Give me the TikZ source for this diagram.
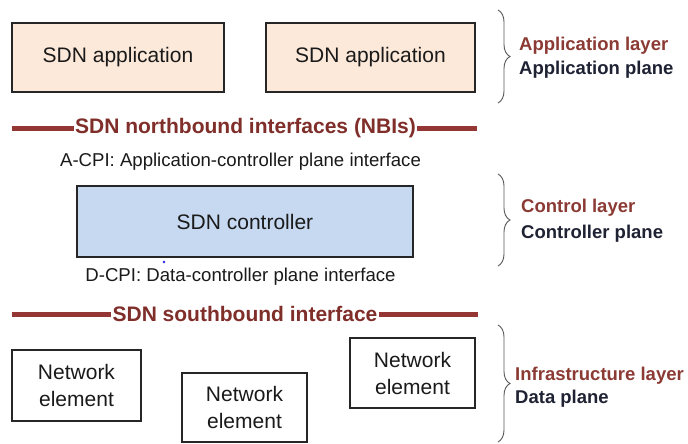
\documentclass[tikz,border=0pt]{standalone}
\usepackage{fontspec}
\setmainfont{Liberation Sans}
\usetikzlibrary{decorations.pathreplacing}
\definecolor{ifred}{HTML}{943634}
\definecolor{iftext}{HTML}{7F2E2A}
\definecolor{appfill}{HTML}{FDE9D9}
\definecolor{ctlfill}{HTML}{C6D9F1}
\definecolor{labtop}{HTML}{8B3A34}
\definecolor{labbot}{HTML}{1E2233}
\definecolor{bodytext}{HTML}{1A1A1A}
\definecolor{dotblue}{HTML}{2020E0}
\tikzset{
  box/.style={draw=black!85, line width=1.4pt, inner sep=0pt, text=bodytext, align=center,
              font=\fontsize{21}{27}\selectfont},
  appbox/.style={box, fill=appfill},
  ctlbox/.style={box, fill=ctlfill},
  nebox/.style={box, fill=white},
  ifline/.style={draw=ifred, line width=5pt},
  iflabel/.style={text=iftext, font=\bfseries\fontsize{21}{25}\selectfont, inner sep=1pt},
  cpilabel/.style={text=bodytext, font=\fontsize{18.6}{22}\selectfont, inner sep=0pt},
  layerbrace/.style={draw=black!65, line width=0.9pt, decorate, decoration={brace, amplitude=12pt}},
  labA/.style={text=labtop, font=\bfseries\fontsize{18.5}{22}\selectfont, anchor=west, inner sep=0pt},
  labB/.style={text=labbot, font=\bfseries\fontsize{18.5}{22}\selectfont, anchor=west, inner sep=0pt}
}
\begin{document}
\begin{tikzpicture}[x=1pt,y=1pt]
\useasboundingbox (0,0) rectangle (688,-444);
\fill[white] (0,0) rectangle (688,-444);

% Application boxes
\node[appbox, minimum width=212pt, minimum height=69pt] (app1) at (118,-57.5) {SDN application};
\node[appbox, minimum width=209pt, minimum height=69pt] (app2) at (370.5,-57.5) {SDN application};

% Northbound interface
\coordinate (nbiL) at (12,-128);
\coordinate (nbiR) at (477,-128);
\node[iflabel] (nbi) at (245.5,-128) {SDN northbound interfaces (NBIs)};
\draw[ifline] (nbiL) -- (nbi.west);
\draw[ifline] (nbi.east) -- (nbiR);

% A-CPI
\node[cpilabel] (acpi) at (240.5,-162) {A-CPI: Application-controller plane interface};

% Controller
\node[ctlbox, minimum width=336pt, minimum height=71pt] (ctl) at (245,-221.5) {SDN controller};
\fill[dotblue] (164,-262) circle (1.3pt);

% D-CPI
\node[cpilabel] (dcpi) at (240.5,-277) {D-CPI: Data-controller plane interface};

% Southbound interface
\coordinate (sbiL) at (12,-314);
\coordinate (sbiR) at (478,-314);
\node[iflabel] (sbi) at (245,-314) {SDN southbound interface};
\draw[ifline] (sbiL) -- (sbi.west);
\draw[ifline] (sbi.east) -- (sbiR);

% Network elements
\node[nebox, minimum width=129pt, minimum height=71pt] (ne1) at (76.5,-385.5) {Network\\element};
\node[nebox, minimum width=125pt, minimum height=69pt] (ne2) at (244.5,-407.5) {Network\\element};
\node[nebox, minimum width=125pt, minimum height=70pt] (ne3) at (412.5,-373) {Network\\element};

% Braces
\coordinate (b1t) at (498,-10);  \coordinate (b1b) at (498,-103);
\coordinate (b2t) at (498,-174); \coordinate (b2b) at (498,-266);
\coordinate (b3t) at (498,-325); \coordinate (b3b) at (498,-442);
\draw[layerbrace] (b1t) -- (b1b);
\draw[layerbrace] (b2t) -- (b2b);
\draw[layerbrace] (b3t) -- (b3b);

% Layer labels
\node[labA] (l1a) at (519,-46) {Application layer};
\node[labB] (l1b) at (519,-70) {Application plane};
\node[labA] (l2a) at (521,-208) {Control layer};
\node[labB] (l2b) at (521,-234) {Controller plane};
\node[labA] (l3a) at (515,-376) {Infrastructure layer};
\node[labB] (l3b) at (515,-399) {Data plane};
\end{tikzpicture}
\end{document}
